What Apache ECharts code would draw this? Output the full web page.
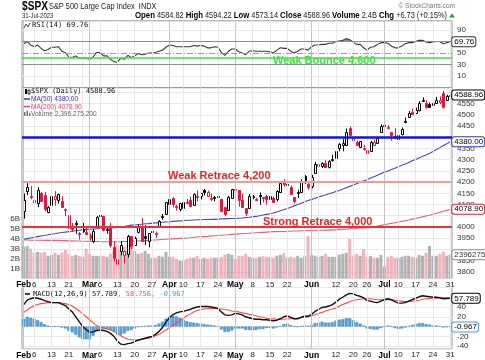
<!DOCTYPE html>
<html><head><meta charset="utf-8">
<script src="https://cdn.jsdelivr.net/npm/echarts@6.0.0/dist/echarts.min.js"></script>
<style>html,body{margin:0;padding:0;background:#fff}#c{width:485px;height:360px}</style>
</head><body><div id="c"></div>
<script>
// ---------- DATA ----------
const monthNames = ['Feb','Mar','Apr','May','Jun','Jul'];
const tradingDays = [
  [1,2,3,6,7,8,9,10,13,14,15,16,17,21,22,23,24,27,28],
  [1,2,3,6,7,8,9,10,13,14,15,16,17,20,21,22,23,24,27,28,29,30,31],
  [3,4,5,6,10,11,12,13,14,17,18,19,20,21,24,25,26,27,28],
  [1,2,3,4,5,8,9,10,11,12,15,16,17,18,19,22,23,24,25,26,30,31],
  [1,2,5,6,7,8,9,12,13,14,15,16,20,21,22,23,26,27,28,29,30],
  [3,5,6,7,10,11,12,13,14,17,18,19,20,21,24,25,26,27,28,31]
];
const labelDays = ['Feb 1','Feb 6','Feb 13','Feb 21','Mar 1','Mar 6','Mar 13','Mar 20','Mar 27','Apr 3','Apr 10','Apr 17','Apr 24','May 1','May 8','May 15','May 22','Jun 1','Jun 12','Jun 20','Jun 26','Jul 3','Jul 10','Jul 17','Jul 24','Jul 31'];
const monthStartDays = ['Feb 1','Mar 1','Apr 3','May 1','Jun 1','Jul 3'];
const weekStartDays = ['Feb 6','Feb 13','Feb 21','Feb 27','Mar 6','Mar 13','Mar 20','Mar 27','Apr 10','Apr 17','Apr 24','May 8','May 15','May 22','May 30','Jun 5','Jun 12','Jun 20','Jun 26','Jul 10','Jul 17','Jul 24','Jul 31'];

const prevClose = 4076.60;
const openP = [
4070.07,4158.68,4136.69,4119.57,4105.35,4153.47,4144.25,4068.92,4096.62,4126.70,4119.50,4114.75,4077.39,4052.35,4001.83,4018.60,3973.24,3992.36,3977.19,
3963.34,3938.68,3998.02,4055.15,4048.26,3987.55,3998.66,3912.77,3835.12,3894.01,3876.74,3878.93,3958.69,3917.47,3975.89,4002.04,3959.21,3939.21,3982.93,3974.13,3999.53,4046.74,4056.18,
4102.20,4128.03,4094.50,4081.15,4085.20,4110.29,4121.72,4100.04,4140.11,4137.17,4164.26,4139.33,4130.48,4132.14,4132.07,4126.43,4087.78,4075.29,4129.63,
4166.79,4164.10,4122.25,4082.61,4084.73,4136.98,4124.25,4143.74,4132.24,4138.54,4126.65,4127.95,4122.85,4157.68,4204.15,4190.78,4176.80,4132.96,4155.71,4156.16,4226.71,4190.74,
4183.03,4241.01,4282.99,4271.34,4285.47,4268.69,4304.88,4308.32,4352.61,4366.29,4365.33,4440.95,4396.11,4380.01,4355.40,4354.17,4344.84,4337.36,4367.48,4374.94,4422.44,
4450.48,4442.04,4422.62,4404.54,4394.23,4415.55,4467.69,4491.50,4514.61,4508.86,4521.78,4563.87,4554.38,4550.16,4543.39,4555.19,4558.96,4598.26,4565.75,4584.82];
const highP = [
4148.95,4195.44,4182.36,4124.63,4176.54,4156.85,4156.23,4094.36,4138.90,4159.77,4148.11,4136.54,4081.51,4052.35,4017.37,4028.30,3978.25,4018.05,3997.50,
3971.73,3990.84,4048.29,4078.49,4050.00,4000.41,4017.81,3934.05,3905.05,3937.29,3894.26,3964.46,3958.91,3956.62,4009.08,4039.49,4007.66,3972.74,4003.83,3979.20,4030.59,4057.85,4110.75,
4127.66,4133.13,4099.69,4107.32,4109.50,4124.26,4134.37,4150.26,4163.19,4151.72,4169.48,4162.57,4148.57,4138.02,4142.41,4126.43,4089.67,4138.24,4170.06,
4186.92,4164.10,4148.30,4082.61,4147.02,4142.30,4130.35,4154.28,4132.80,4143.74,4141.25,4135.54,4164.67,4202.20,4212.91,4209.22,4185.68,4132.96,4165.74,4212.87,4231.10,4195.44,
4232.43,4290.67,4299.28,4288.33,4299.19,4298.01,4322.62,4340.13,4375.37,4391.82,4439.20,4448.47,4400.15,4386.22,4382.25,4366.55,4362.06,4384.42,4390.35,4398.39,4458.48,
4456.46,4454.06,4422.62,4440.39,4412.60,4443.64,4488.34,4517.38,4527.76,4532.85,4562.30,4578.43,4564.74,4555.00,4563.41,4580.62,4582.47,4607.07,4590.16,4594.22];
const lowP = [
4037.20,4141.88,4123.36,4103.98,4088.39,4111.67,4069.67,4060.79,4092.67,4095.01,4103.98,4089.49,4047.95,3995.19,3976.90,3969.19,3943.08,3973.55,3968.98,
3939.05,3928.16,3995.17,4044.61,3980.31,3969.76,3908.70,3846.32,3808.86,3873.63,3838.24,3864.11,3901.27,3916.89,3971.19,3936.17,3919.05,3909.16,3970.47,3951.53,3999.53,4032.10,4056.18,
4098.79,4086.87,4072.56,4069.84,4072.55,4102.61,4086.94,4099.40,4113.20,4123.18,4140.36,4134.49,4114.57,4113.86,4117.77,4071.38,4049.35,4075.29,4127.18,
4164.12,4089.72,4088.86,4048.28,4084.73,4123.81,4116.65,4098.92,4109.29,4099.12,4110.27,4109.86,4113.62,4153.50,4180.20,4179.68,4142.54,4103.98,4129.73,4156.16,4192.18,4166.15,
4171.64,4241.01,4266.82,4263.09,4263.96,4261.07,4291.70,4304.37,4337.66,4337.85,4362.60,4407.44,4367.19,4360.14,4351.82,4341.34,4328.08,4335.00,4360.22,4371.97,4422.44,
4442.29,4436.61,4385.05,4397.40,4389.92,4408.46,4463.23,4489.36,4499.56,4504.90,4514.59,4557.48,4527.56,4535.79,4541.29,4552.42,4547.58,4528.56,4564.01,4573.14];
const closeP = [
4119.21,4179.76,4136.48,4111.08,4164.00,4117.86,4081.50,4090.46,4137.29,4136.13,4147.60,4090.41,4079.09,3997.34,3991.05,4012.32,3970.04,3982.24,3970.15,
3951.39,3981.35,4045.64,4048.42,3986.37,3992.01,3918.32,3861.59,3855.76,3919.29,3891.93,3960.28,3916.64,3951.57,4002.87,3936.97,3948.72,3970.99,3977.53,3971.27,4027.81,4050.83,4109.31,
4124.51,4100.60,4090.38,4105.02,4109.11,4108.94,4091.95,4146.22,4137.64,4151.32,4154.87,4154.52,4129.79,4133.52,4137.04,4071.63,4055.99,4135.35,4169.48,
4167.87,4119.58,4090.75,4061.22,4136.25,4138.12,4119.17,4137.64,4130.62,4124.08,4136.28,4109.90,4158.77,4198.05,4191.98,4192.63,4145.58,4115.24,4151.28,4205.45,4205.52,4179.83,
4221.02,4282.37,4273.79,4283.85,4267.52,4293.93,4298.86,4338.93,4369.01,4372.59,4425.84,4409.59,4388.71,4365.69,4381.89,4348.33,4328.82,4378.41,4376.86,4396.44,4450.38,
4455.59,4446.82,4411.59,4398.95,4409.53,4439.26,4472.16,4510.04,4505.42,4522.79,4554.98,4565.72,4534.87,4536.34,4554.64,4567.46,4566.75,4537.41,4582.23,4588.96];
const volumeB = [
3.2,3.3,3.0,2.6,2.7,2.6,2.7,2.3,2.4,2.6,2.4,2.6,2.9,2.5,2.3,2.4,2.3,2.2,3.0,
2.5,2.3,2.3,2.3,2.3,2.2,2.5,2.8,3.3,2.9,3.2,2.8,4.1,2.8,2.5,2.6,2.8,2.5,2.1,2.1,2.3,2.2,2.7,
2.2,2.2,2.0,1.8,1.8,2.0,2.1,2.1,2.3,2.0,2.1,2.0,2.1,2.1,2.1,2.2,2.4,2.5,2.4,
2.0,2.3,2.3,2.5,2.2,2.1,2.1,2.2,2.3,2.2,2.2,2.1,2.3,2.4,2.6,2.1,2.2,2.1,2.3,2.1,2.3,4.3,
2.4,2.3,2.2,2.3,2.5,2.2,2.2,2.2,2.4,2.5,2.6,4.0,2.3,2.5,2.3,3.0,2.2,2.3,2.1,2.1,2.4,
1.2,2.2,2.3,2.1,2.1,2.2,2.3,2.3,2.2,2.1,2.4,2.3,2.6,3.3,2.3,2.3,2.5,2.7,2.3,2.396];
const ma50 = [
3945,3948,3951,3954,3957,3960,3962,3965,3968,3970,3973,3975,3977,3979,3981,3983,3985,3987,3989,
3990,3991,3992,3993,3994,3995,3996,3997,3998,4000,4002,4005,4008,4009,4011,4012,4014,4015,4017,4018,4019,4021,4022,
4023,4025,4026,4027,4028,4030,4030,4031,4032,4032,4033,4033,4034,4034,4035,4036,4036,4037,4038,
4038,4039,4040,4042,4043,4045,4047,4050,4053,4056,4059,4062,4067,4072,4077,4082,4088,4094,4100,4106,4112,4118,
4123,4128,4133,4138,4143,4148,4153,4158,4163,4169,4175,4181,4187,4193,4199,4205,4211,4218,4224,4231,4238,
4244,4250,4256,4262,4269,4275,4281,4288,4295,4301,4308,4315,4321,4328,4337,4346,4354,4363,4371,4380.00];
const ma200 = [
3942,3942,3941,3941,3941,3941,3940,3940,3940,3940,3940,3939,3939,3938,3938,3937,3937,3936,3936,
3936,3935,3935,3935,3934,3934,3934,3934,3934,3934,3935,3935,3936,3937,3937,3938,3939,3940,3941,3942,3943,3944,3945,
3946,3947,3948,3949,3950,3951,3952,3954,3955,3956,3957,3958,3960,3961,3962,3963,3964,3965,3967,
3968,3969,3970,3971,3972,3973,3974,3975,3976,3977,3978,3979,3979,3980,3980,3981,3981,3982,3982,3983,3983,3984,
3984,3985,3985,3985,3986,3986,3987,3987,3988,3989,3990,3992,3993,3994,3995,3996,3998,3999,4001,4004,4007,
4010,4013,4016,4019,4022,4025,4028,4031,4035,4038,4042,4045,4049,4052,4057,4061,4066,4070,4074,4078.90];
const rsi = [
66,70,64,61,64,58,54,56,60,60,61,53,51,43,42,45,41,42,41,
39,43,51,51,45,45,39,35,34,41,39,46,42,45,49,47,48,50,50,51,53,55,60,
64,63,61,61,61,61,61,63,62,63,62,59,59,61,60,51,46,53,57,
57,52,50,47,53,54,53,53,53,53,52,50,55,59,58,58,53,50,53,57,57,55,
61,64,64,65,65,67,67,70,71,72,75,73,69,65,65,59,55,60,61,65,68,
68,67,62,59,59,62,66,68,68,70,72,72,69,68,69,70,70,66,68,69.76];
const macd = [
45,54,57,59,58,56,53,51,49,49,49,46,43,36,30,20,10,0,-6,
-12,-11,-8,-7,-8,-10,-14,-20,-30,-36,-37,-35,-34,-31,-28,-26,-24,-22,-20,-16,-10,-2,9,
18,24,28,30,31,33,35,38,40,41,41,41,40,39,37,30,24,23,24,
27,26,24,20,18,16,15,15,14,14,13,12,13,16,20,22,19,16,16,19,21,21,
25,31,35,39,40,42,45,50,56,60,65,68,67,64,62,59,53,52,50,49,52,
55,57,55,51,48,48,49,52,55,58,61,63,62,61,60,60,59,57,57.5,57.789];
const signal = [
29,34,39,43,45,47,48,49,49,49,49,48,47,45,42,37,32,26,20,
14,8,2,-1,-3,-5,-7,-10,-14,-19,-23,-26,-27,-27,-27,-26,-25,-24,-22,-19,-16,-12,-7,
-2,2,7,12,17,22,26,30,33,35,36,37,37,37,37,36,35,34,32,
31,30,28,27,25,24,22,20,19,17,16,16,15,15,15,16,16,16,17,18,19,20,
22,24,27,29,32,34,36,38,42,45,48,51,54,55,56,57,57,57,56,55,55,
55,55,55,54,53,52,51,51,52,53,54,56,57,57,58,58,58.5,58.8,58.8,58.756];
const hist = [
16,20,18,16,13,9,5,2,0,0,0,-2,-4,-9,-12,-17,-22,-26,-26,
-26,-19,-10,-6,-5,-5,-7,-10,-16,-17,-14,-9,-7,-4,-1,0,1,2,2,3,6,10,16,
20,22,21,18,14,11,9,8,7,6,5,4,3,2,0,-6,-11,-11,-8,
-4,-4,-4,-7,-7,-8,-7,-5,-5,-3,-3,-4,-2,1,5,6,3,0,-1,1,2,1,
3,7,8,10,8,8,9,12,14,15,17,17,13,9,6,2,-4,-5,-6,-6,-3,
0,2,0,-3,-5,-4,-2,1,3,5,7,7,5,4,2,2,0.5,-1.8,-1.3,-0.967];
const rsiLevels = {upper:70, mid:50, lower:30, weakBounce:41};
const priceLevels = {blue:4400, weakRetrace:4200, strongRetrace:4000};

// ---------- BUILD ----------
const categories = [];
tradingDays.forEach((days, m) => days.forEach(d => categories.push(monthNames[m] + ' ' + d)));

const SANS = "'Liberation Sans',Arial,sans-serif";
const MONO = "'DejaVu Sans Mono',monospace";
const RED = '#e3173e';
const NS = 0.82; // narrow-font emulation

const candleData = closeP.map((c, i) => [i, openP[i], highP[i], lowP[i], c]);
function prevOf(i){ return i > 0 ? closeP[i-1] : prevClose; }

function renderCandle(params, api) {
  const i = api.value(0);
  const o = api.value(1), h = api.value(2), l = api.value(3), c = api.value(4);
  const col = c >= prevOf(i) ? '#000000' : RED;
  const pH = api.coord([i, h]), pL = api.coord([i, l]), pO = api.coord([i, o]), pC = api.coord([i, c]);
  const cx = Math.round(pH[0]) + 0.5;
  const top = Math.round(Math.min(pO[1], pC[1])) + 0.5;
  let bot = Math.round(Math.max(pO[1], pC[1])) + 0.5;
  if (bot - top < 1) bot = top + 1;
  const hollow = c > o;
  return {type:'group', children:[
    {type:'line', shape:{x1:cx, y1:pH[1], x2:cx, y2:pL[1]}, style:{stroke:col, lineWidth:1}},
    {type:'rect', shape:{x:cx-1, y:top, width:2, height:bot-top}, style:{fill: hollow ? '#ffffff' : col, stroke: col, lineWidth:1}}
  ]};
}
// shaded RSI area above the overbought level, segment by segment
function renderOverbought(params, api) {
  const i = params.dataIndex;
  if (i >= rsi.length - 1) return null;
  const lv = rsiLevels.upper, v0 = rsi[i], v1 = rsi[i+1];
  if (v0 <= lv && v1 <= lv) return null;
  const a = api.coord([i, v0]), b = api.coord([i+1, v1]);
  const base = api.coord([i, lv])[1];
  const at = t => [a[0] + (b[0]-a[0])*t, a[1] + (b[1]-a[1])*t];
  let pts;
  if (v0 > lv && v1 > lv) pts = [[a[0], base], a, b, [b[0], base]];
  else if (v0 > lv) { const t = (v0-lv)/(v0-v1); pts = [[a[0], base], a, at(t)]; }
  else { const t = (lv-v0)/(v1-v0); pts = [at(t), b, [b[0], base]]; }
  return {type:'polygon', shape:{points:pts}, style:{fill:'rgba(70,125,70,0.75)'}};
}

function vGrid() {
  return {silent:true, symbol:['none','none'], label:{show:false}, animation:false,
    data: weekStartDays.map(d => ({xAxis:d, lineStyle:{color:'#e8e8e8', width:1, type:'solid'}}))
      .concat(monthStartDays.map(d => ({xAxis:d, lineStyle:{color:'#c4c4c4', width:1, type:'solid'}})))};
}
function boxLabel(text, border, color) {
  return {show:true, formatter:text, fontSize:8, fontFamily:SANS, color:color||'#000',
    backgroundColor:'#fff', borderColor:border, borderWidth:1, borderRadius:2, padding:[1,1,0,2], distance:2};
}
function xAx(gridIndex, showLabels) {
  return {type:'category', gridIndex, data:categories, boundaryGap:true,
    axisLine:{show:false}, axisTick:{show:false}, splitLine:{show:false},
    axisLabel:{show:showLabels, margin:2, fontSize:8, fontFamily:SANS, color:'#222',
      showMinLabel:true, showMaxLabel:true, hideOverlap:false,
      interval:(idx, v) => labelDays.indexOf(v) >= 0,
      formatter:(v) => monthStartDays.indexOf(v) >= 0 ? '{m|' + v.split(' ')[0] + '}' : v.split(' ')[1],
      rich:{m:{fontWeight:'bold', fontSize:8.5, fontFamily:SANS, color:'#000'}}}};
}
function txt(text, x, y, font, fill, opts) {
  opts = opts || {};
  return {type:'text', z:100, x, y, scaleX: opts.scale === undefined ? 1 : opts.scale,
    style:Object.assign({text, font, fill, align: opts.align || 'left', verticalAlign:'middle'}, opts.style || {})};
}

const option = {
  animation:false,
  backgroundColor:'#fff',
  grid:[
    {left:22, width:430, top:20.8, height:66.7, show:true, borderColor:'#9a9a9a', borderWidth:1},
    {left:22, width:430, top:88, height:190.5, show:true, borderColor:'#9a9a9a', borderWidth:1},
    {left:22, width:430, top:287.5, height:68.5, show:true, borderColor:'#9a9a9a', borderWidth:1}
  ],
  xAxis:[xAx(0,false), xAx(1,true), xAx(2,true)],
  yAxis:[
    {gridIndex:0, position:'right', min:-10, max:106, interval:10,
      axisLine:{show:false}, axisTick:{show:false}, splitLine:{show:false},
      axisLabel:{margin:5, fontSize:8, fontFamily:SANS, color:'#333',
        formatter:v => [10,30,50,90].indexOf(v) >= 0 ? String(v) : ''}},
    {gridIndex:1, position:'right', min:3770, max:4620, minInterval:50, maxInterval:50, splitNumber:17,
      axisLine:{show:false}, axisTick:{show:false},
      splitLine:{show:true, lineStyle:{color:'#e8e8e8', width:1}},
      axisLabel:{margin:5, fontSize:8, fontFamily:SANS, color:'#333',
        formatter:v => (v % 50 === 0 && [4600,4400,4050,3900].indexOf(v) < 0) ? String(v) : ''}},
    {gridIndex:1, position:'left', min:0, max:19.3, interval:1,
      axisLine:{show:false}, axisTick:{show:false}, splitLine:{show:false},
      axisLabel:{margin:2, fontSize:8, fontFamily:SANS, color:'#333',
        formatter:v => (v >= 1 && v <= 6) ? v + 'B' : ''}},
    {gridIndex:2, position:'right', min:-46, max:80, minInterval:20, maxInterval:20, splitNumber:6,
      axisLine:{show:false}, axisTick:{show:false},
      splitLine:{show:true, lineStyle:{color:'#e8e8e8', width:1}},
      axisLabel:{margin:5, fontSize:8, fontFamily:SANS, color:'#333',
        formatter:v => [-40,-20,20,40].indexOf(v) >= 0 ? String(v) : ''}}
  ],
  series:[
    {type:'line', xAxisIndex:0, yAxisIndex:0, data:[], z:0, silent:true, markLine:vGrid()},
    {type:'line', xAxisIndex:1, yAxisIndex:1, data:[], z:0, silent:true, markLine:vGrid()},
    {type:'line', xAxisIndex:2, yAxisIndex:3, data:[], z:0, silent:true, markLine:vGrid()},
    {name:'RSI-OB', type:'custom', xAxisIndex:0, yAxisIndex:0, data:rsi.map((v,i)=>[i,v]), z:2,
      encode:{x:0, y:1}, renderItem:renderOverbought, silent:true},
    {name:'RSI', type:'line', xAxisIndex:0, yAxisIndex:0, data:rsi, symbol:'none', z:3,
      lineStyle:{color:'#3a3a3a', width:1.1},
      endLabel:boxLabel('69.76', '#333'),
      markLine:{silent:true, symbol:['none','none'], label:{show:false}, animation:false, data:[
        {yAxis:90, lineStyle:{color:'#e8e8e8', width:1, type:'solid'}},
        {yAxis:10, lineStyle:{color:'#e8e8e8', width:1, type:'solid'}},
        {yAxis:rsiLevels.upper, lineStyle:{color:'#8c8c8c', width:1, type:'solid'}},
        {yAxis:rsiLevels.lower, lineStyle:{color:'#8c8c8c', width:1, type:'solid'}},
        {yAxis:rsiLevels.mid, lineStyle:{color:'#9a9a9a', width:1, type:[6,2,1,2]}},
        {yAxis:rsiLevels.weakBounce, lineStyle:{color:'#3de23d', width:1.5, type:'solid'}}
      ]}},
    {name:'Volume', type:'bar', xAxisIndex:1, yAxisIndex:2, data:volumeB, barCategoryGap:'12%', z:1,
      itemStyle:{color:p => closeP[p.dataIndex] >= prevOf(p.dataIndex) ? 'rgba(150,150,150,0.72)' : 'rgba(236,150,162,0.72)'}},
    {type:'line', xAxisIndex:1, yAxisIndex:2, data:volumeB, symbol:'none', lineStyle:{opacity:0}, z:6,
      endLabel:boxLabel('2396275', '#888', '#333')},
    {name:'MA200', type:'line', xAxisIndex:1, yAxisIndex:1, data:ma200, symbol:'none', z:3,
      lineStyle:{color:'#e8607a', width:1.1},
      endLabel:boxLabel('4078.90', '#e3173e'),
      markLine:{silent:true, symbol:['none','none'], label:{show:false}, animation:false, data:[
        {yAxis:priceLevels.weakRetrace, lineStyle:{color:'#f59a9a', width:2, type:'solid'}},
        {yAxis:priceLevels.strongRetrace, lineStyle:{color:'#e83434', width:2, type:'solid'}},
        {yAxis:priceLevels.blue, lineStyle:{color:'#1212e6', width:2.5, type:'solid'}}
      ]}},
    {name:'MA50', type:'line', xAxisIndex:1, yAxisIndex:1, data:ma50, symbol:'none', z:3,
      lineStyle:{color:'#4a4ab8', width:1.1},
      endLabel:boxLabel('4380.00', '#3333cc')},
    {name:'SPX', type:'custom', xAxisIndex:1, yAxisIndex:1, data:candleData, z:4,
      encode:{x:0, y:[1,2,3,4]}, renderItem:renderCandle},
    {type:'line', xAxisIndex:1, yAxisIndex:1, data:closeP, symbol:'none', lineStyle:{opacity:0}, z:6,
      endLabel:boxLabel('4588.96', '#000')},
    {name:'Hist', type:'bar', xAxisIndex:2, yAxisIndex:3, data:hist, barCategoryGap:'15%', z:2,
      itemStyle:{color:'#56a3d6', borderColor:'#2f7fb5', borderWidth:0.4}},
    {type:'line', xAxisIndex:2, yAxisIndex:3, data:hist, symbol:'none', lineStyle:{opacity:0}, z:6,
      endLabel:boxLabel('-0.967', '#4a9bd1')},
    {name:'Signal', type:'line', xAxisIndex:2, yAxisIndex:3, data:signal, symbol:'none', z:3,
      lineStyle:{color:'#ff4a4a', width:1.1}},
    {name:'MACD', type:'line', xAxisIndex:2, yAxisIndex:3, data:macd, symbol:'none', z:4,
      lineStyle:{color:'#111', width:1.4},
      endLabel:boxLabel('57.789', '#000')}
  ],
  graphic:[
    txt('$SPX', 22, 6.5, 'bold 13px ' + SANS, '#000', {scale:0.78}),
    txt('S&P 500 Large Cap Index  INDX', 49, 6.5, '9px ' + SANS, '#222', {scale:NS}),
    txt('\u00A9 StockCharts.com', 455, 6, '8px ' + SANS, '#777', {scale:NS, align:'right'}),
    txt('31-Jul-2023', 22, 15.5, '8px ' + SANS, '#222', {scale:0.74}),
    txt('{b|Open} 4584.82 {b|High} 4594.22 {b|Low} 4573.14 {b|Close} 4588.96 {b|Volume} 2.4B {b|Chg} +6.73 (+0.15%)',
      447, 15.5, '9px ' + SANS, '#222', {scale:NS, align:'right',
      style:{rich:{b:{fontWeight:'bold', fontSize:9.5, fontFamily:SANS, fill:'#000'}}}}),
    {type:'polygon', z:100, shape:{points:[[449,17.5],[455,17.5],[452,13.5]]}, style:{fill:'#2a9a2a'}},
    {type:'polyline', z:100, shape:{points:[[24,28],[26,24],[28,27],[30,23]]}, style:{stroke:'#444', lineWidth:1, fill:null}},
    txt('RSI(14) 69.76', 32, 25.5, '7.2px ' + MONO, '#111'),
    {type:'rect', z:100, shape:{x:25, y:89, width:2, height:5}, style:{fill:'#000'}},
    {type:'rect', z:100, shape:{x:28, y:90, width:2, height:4}, style:{fill:'#fff', stroke:'#000', lineWidth:0.8}},
    txt('$SPX (Daily) 4588.96', 31, 91.5, '7px ' + MONO, '#111'),
    {type:'line', z:100, shape:{x1:24, y1:99, x2:30, y2:99}, style:{stroke:'#3333bb', lineWidth:1.5}},
    txt('MA(50) 4380.00', 31, 99, '8px ' + SANS, '#3333bb', {scale:NS}),
    {type:'line', z:100, shape:{x1:24, y1:106.5, x2:30, y2:106.5}, style:{stroke:'#e8455f', lineWidth:1.5}},
    txt('MA(200) 4078.90', 31, 106.5, '8px ' + SANS, '#e8455f', {scale:NS}),
    {type:'rect', z:100, shape:{x:24, y:112, width:1.5, height:4}, style:{fill:'#777'}},
    {type:'rect', z:100, shape:{x:26.5, y:110.5, width:1.5, height:5.5}, style:{fill:'#777'}},
    {type:'rect', z:100, shape:{x:29, y:113, width:1.5, height:3}, style:{fill:'#777'}},
    txt('Volume 2,396,275,200', 31, 114, '8px ' + SANS, '#666', {scale:NS}),
    {type:'line', z:100, shape:{x1:25, y1:294, x2:30, y2:294}, style:{stroke:'#000', lineWidth:1.5}},
    txt('MACD(12,26,9) 57.789{r|, 58.756}{bl|, -0.967}', 33, 294, '7px ' + MONO, '#111',
      {style:{rich:{r:{fill:'#ff4a4a', fontFamily:MONO, fontSize:7}, bl:{fill:'#4a9bd1', fontFamily:MONO, fontSize:7}}}}),
    txt('Weak Bounce 4,600', 273, 60.5, 'bold 11px ' + SANS, '#3de23d'),
    txt('Weak Retrace 4,200', 168, 175.5, 'bold 11px ' + SANS, '#ee2222'),
    txt('Strong Retrace 4,000', 263, 222, 'bold 11px ' + SANS, '#ee2222')
  ]
};
const chart = echarts.init(document.getElementById('c'), null, {renderer:'canvas'});
chart.setOption(option);
</script></body></html>
